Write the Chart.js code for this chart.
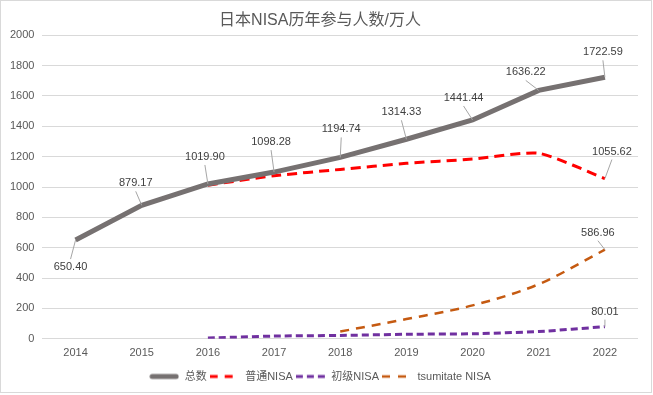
<!DOCTYPE html>
<html>
<head>
<meta charset="utf-8">
<script src="https://cdn.jsdelivr.net/npm/chart.js@4"></script>
<style>
  html, body { margin: 0; padding: 0; background: #fff; }
  #wrapper { width: 650px; height: 391px; border: 1px solid #d9d9d9; }
</style>
</head>
<body>
<div id="wrapper"><canvas id="chart"></canvas></div>
<script>
"use strict";
// data
const years = ["2014", "2015", "2016", "2017", "2018", "2019", "2020", "2021", "2022"];
const total = [650.40, 879.17, 1019.90, 1098.28, 1194.74, 1314.33, 1441.44, 1636.22, 1722.59];
const general = [null, null, 1012, 1074, 1116, 1156, 1184, 1222, 1055.62];
const junior = [null, null, 5, 18, 22, 30, 33, 48, 80.01];
const tsumitate = [null, null, null, null, 48, 130, 220, 360, 586.96];
const yTicks = [0, 200, 400, 600, 800, 1000, 1200, 1400, 1600, 1800, 2000];

// label placement (pixel offsets from the point), per dataset, per index
const labelOffsets = [
    { 0: [-5, 27], 1: [-6, -22], 2: [-3, -27], 3: [-3, -30], 4: [1, -28], 5: [-5, -27], 6: [-9, -22], 7: [-13, -18], 8: [-2, -25] },
    { 8: [7, -27] },
    { 8: [0, -15] },
    { 8: [-7, -17] }
];

const FONT = "'Liberation Sans', Arial, 'Noto Sans CJK SC', sans-serif";

// small canvases used as legend samples, so the dashes show
function legendSample(color, width, dash) {
    let c = document.createElement("canvas");
    c.width = 30;
    c.height = 8;
    let g = c.getContext("2d");
    g.strokeStyle = color;
    g.lineWidth = width;
    g.lineCap = dash.length ? "butt" : "round";
    g.setLineDash(dash);
    g.beginPath();
    g.moveTo(dash.length ? 0 : 3, 4);
    g.lineTo(dash.length ? 30 : 27, 4);
    g.stroke();
    return c;
}

const labelPlugin = {
    id: "labelPlugin",
    afterDatasetsDraw(chart) {
        const ctx = chart.ctx;
        ctx.save();
        ctx.font = "11px " + FONT;
        ctx.textAlign = "center";
        ctx.textBaseline = "middle";
        chart.data.datasets.forEach(function(ds, di) {
            const meta = chart.getDatasetMeta(di);
            const offs = labelOffsets[di] || {};
            for (const k in offs) {
                const pt = meta.data[k];
                const v = ds.data[k];
                if (!pt || v == null) continue;
                const lx = pt.x + offs[k][0];
                const ly = pt.y + offs[k][1];
                const dir = offs[k][1] < 0 ? 1 : -1;
                const ex = lx;
                const ey = ly + dir * 8;
                const dist = Math.hypot(ex - pt.x, ey - pt.y);
                if (dist > 4) {
                    ctx.strokeStyle = "#a6a6a6";
                    ctx.lineWidth = 1;
                    ctx.setLineDash([]);
                    ctx.beginPath();
                    ctx.moveTo(pt.x, pt.y);
                    ctx.lineTo(ex, ey);
                    ctx.stroke();
                }
                ctx.fillStyle = "#404040";
                ctx.fillText(v.toFixed(2), lx, ly);
            }
        });
        ctx.restore();
    }
};

const bgPlugin = {
    id: "bgPlugin",
    beforeDraw(chart) {
        const ctx = chart.ctx;
        ctx.save();
        ctx.fillStyle = "#fff";
        ctx.fillRect(0, 0, chart.width, chart.height);
        ctx.restore();
    }
};

const styles = [
    { color: "#767171", width: 5, dash: [] },
    { color: "#ff0000", width: 3, dash: [10, 6] },
    { color: "#7030a0", width: 3, dash: [7, 4] },
    { color: "#c55a11", width: 2.5, dash: [9, 7] }
];

new Chart(document.getElementById("chart"), {
    type: "line",
    data: {
        labels: years,
        datasets: [
            { label: "总数", data: total, borderColor: styles[0].color, borderWidth: 5, tension: 0, pointStyle: legendSample(styles[0].color, 5, []) },
            { label: "普通NISA", data: general, borderColor: styles[1].color, borderWidth: 3, borderDash: styles[1].dash, tension: 0.2, pointStyle: legendSample(styles[1].color, 3, [8, 7]) },
            { label: "初级NISA", data: junior, borderColor: styles[2].color, borderWidth: 3, borderDash: styles[2].dash, tension: 0.2, pointStyle: legendSample(styles[2].color, 3, [7, 4]) },
            { label: "tsumitate NISA", data: tsumitate, borderColor: styles[3].color, borderWidth: 2.5, borderDash: styles[3].dash, cubicInterpolationMode: "monotone", pointStyle: legendSample(styles[3].color, 2.5, [8, 8]) }
        ]
    },
    options: {
        responsive: true,
        maintainAspectRatio: false,
        animation: false,
        elements: { point: { radius: 0, hoverRadius: 0 } },
        layout: { padding: { top: 5, left: 1, right: 13, bottom: 0 } },
        plugins: {
            title: {
                display: true,
                text: "日本NISA历年参与人数/万人",
                color: "#595959",
                font: { size: 16, family: FONT, weight: "normal" },
                padding: { top: 5, bottom: 5 }
            },
            legend: {
                position: "bottom",
                labels: {
                    usePointStyle: true,
                    pointStyleWidth: 30,
                    padding: 3,
                    color: "#595959",
                    font: { size: 11, family: FONT }
                }
            },
            tooltip: { enabled: false }
        },
        scales: {
            x: {
                offset: true,
                grid: { display: false, drawTicks: false },
                border: { display: false },
                ticks: { color: "#595959", font: { size: 11, family: FONT }, padding: 8 }
            },
            y: {
                min: 0,
                max: 2000,
                afterBuildTicks(axis) { axis.ticks = yTicks.map(v => ({ value: v })); },
                grid: { color: "#d9d9d9", drawTicks: false },
                border: { display: false },
                ticks: { color: "#595959", font: { size: 11, family: FONT }, padding: 8, callback: v => String(v) }
            }
        }
    },
    plugins: [bgPlugin, labelPlugin]
});
</script>
</body>
</html>
